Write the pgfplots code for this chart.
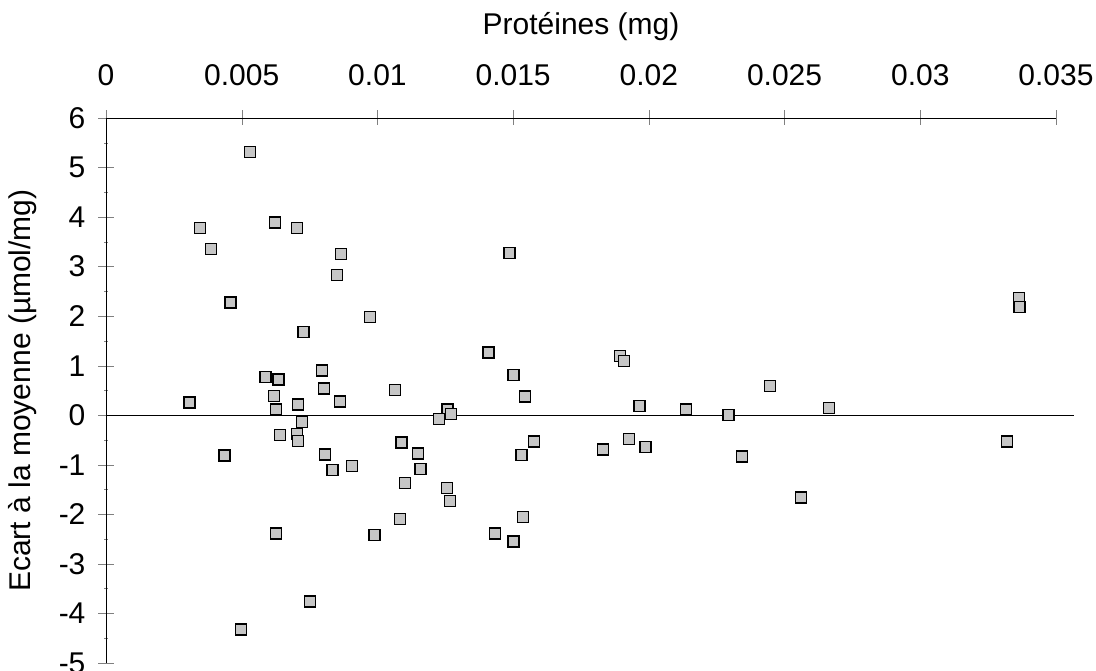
\documentclass[border=0pt]{standalone}
\usepackage{fontspec}
\setmainfont{Liberation Sans}
\usepackage{pgfplots}
\pgfplotsset{compat=1.18}

\pgfplotstableread{
x y
0.00530 5.31
0.00622 3.89
0.00347 3.78
0.00704 3.78
0.00387 3.36
0.00866 3.26
0.00850 2.83
0.00459 2.28
0.00972 1.98
0.00728 1.68
0.00795 0.90
0.00587 0.77
0.00636 0.72
0.00804 0.54
0.01065 0.51
0.00619 0.39
0.00307 0.26
0.00708 0.22
0.00862 0.28
0.00627 0.12
0.00722 -0.13
0.00640 -0.40
0.00704 -0.38
0.00708 -0.52
0.00436 -0.81
0.00806 -0.79
0.00835 -1.10
0.00906 -1.02
0.00626 -2.39
0.00989 -2.42
0.00751 -3.76
0.00497 -4.32
0.01487 3.27
0.01409 1.27
0.01893 1.20
0.01908 1.10
0.01501 0.81
0.01543 0.38
0.01966 0.19
0.01258 0.12
0.01270 0.03
0.01227 -0.07
0.01089 -0.55
0.01576 -0.53
0.01149 -0.77
0.01531 -0.80
0.01831 -0.69
0.01926 -0.48
0.01987 -0.64
0.01159 -1.08
0.01101 -1.37
0.01257 -1.47
0.01267 -1.73
0.01084 -2.09
0.01537 -2.05
0.01433 -2.39
0.01502 -2.55
0.02447 0.59
0.02136 0.12
0.02293 0.00
0.02663 0.15
0.02344 -0.83
0.02561 -1.66
0.03363 2.37
0.03365 2.18
0.03319 -0.53
}\ecart

\begin{document}
\begin{tikzpicture}
\begin{axis}[
  scale only axis, width=475pt, height=272.5pt,
  xmin=0, xmax=0.035, ymin=-5, ymax=6,
  axis x line*=top, axis y line*=left,
  clip=false,
  scaled x ticks=false,
  xtick={0,0.005,0.01,0.015,0.02,0.025,0.03,0.035},
  xticklabels={0,0.005,0.01,0.015,0.02,0.025,0.03,0.035},
  ytick={-5,-4,-3,-2,-1,0,1,2,3,4,5,6},
  minor y tick num=1,
  tick align=center,
  major tick length=7.5pt,
  minor tick length=2pt,
  /pgf/number format/assume math mode=true,
  tick label style={font=\fontsize{15}{18}\selectfont},
  label style={font=\fontsize{15}{18}\selectfont},
  x tick label style={yshift=9pt},
  y tick label style={xshift=-3pt},
  xlabel style={yshift=5pt},
  ylabel style={yshift=4pt},
  xlabel={Protéines (mg)},
  ylabel={Ecart à la moyenne (µmol/mg)},
]
\coordinate (sw) at (rel axis cs:0,0);
\coordinate (ne) at (rel axis cs:1,1);
\addplot [black, line width=0.5pt] coordinates {(0,0) (0.03568,0)};
\addplot [only marks, mark=square*, mark size=2.75pt,
  mark options={fill=gray!45, draw=black, line width=0.7pt}] table {\ecart};
\end{axis}
\pgfresetboundingbox
\path ([shift={(-53pt,-3.5pt)}]sw) rectangle ([shift={(20pt,59pt)}]ne);
\end{tikzpicture}
\end{document}
